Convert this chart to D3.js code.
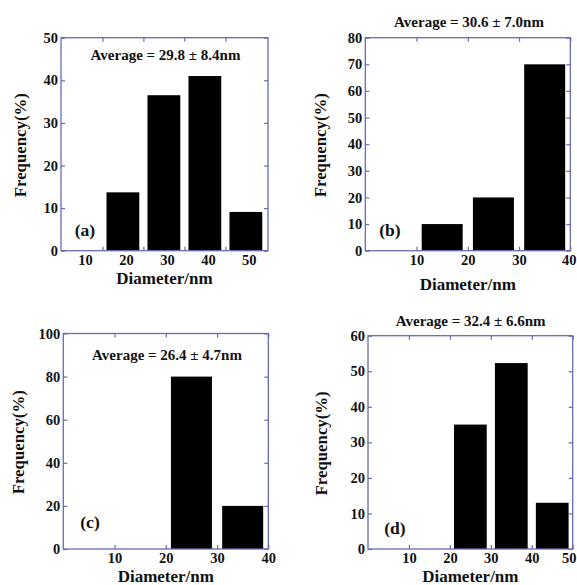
<!DOCTYPE html>
<html>
<head>
<meta charset="utf-8">
<script src="https://cdn.jsdelivr.net/npm/d3@7/dist/d3.min.js"></script>
<style>
  body { margin: 0; background: #fff; }
  text { font-family: "Liberation Serif", "Times New Roman", serif; font-weight: bold; fill: #111; }
</style>
</head>
<body>
<div id="chart"></div>
<script>
// ---- data ----
// (a)
const binsA = [20, 30, 40, 50];
const freqA = [13.7, 36.5, 41, 9.1];
const yTicksA = [0, 10, 20, 30, 40, 50];
const xLabelsA = [10, 20, 30, 40, 50];
const xTicksA = [15, 25, 35, 45];   // tick marks sit on the bin edges here
// (b)
const binsB = [15, 25, 35];
const freqB = [10, 20, 70];
const yTicksB = [0, 10, 20, 30, 40, 50, 60, 70, 80];
const xLabelsB = [10, 20, 30, 40];
// (c)
const binsC = [15, 25, 35];
const freqC = [0, 80, 20];
const yTicksC = [0, 20, 40, 60, 80, 100];
const xLabelsC = [10, 20, 30, 40];
// (d)
const binsD = [25, 35, 45];
const freqD = [35, 52.3, 13];
const yTicksD = [0, 10, 20, 30, 40, 50, 60];
const xLabelsD = [10, 20, 30, 40, 50];

const averages = ["Average = 29.8 ± 8.4nm", "Average = 30.6 ± 7.0nm",
                  "Average = 26.4 ± 4.7nm", "Average = 32.4 ± 6.6nm"];
const letters = ["(a)", "(b)", "(c)", "(d)"];

const W = 577, H = 585;
const frameColor = "#6a6ab4";
const barWidth = 8;

const svg = d3.select("#chart").append("svg")
    .attr("width", W)
    .attr("height", H);

// one panel of the figure
function drawPanel(p) {
    let x = d3.scaleLinear().domain(p.xDomain).range([p.left, p.right]);
    let y = d3.scaleLinear().domain([0, d3.max(p.yTicks)]).range([p.bottom, p.top]);

    let g = svg.append("g");

    // bars
    g.selectAll(".bar")
        .data(p.bins.map((b, i) => ({bin: b, freq: p.freq[i]})))
        .enter().append("rect")
        .attr("class", "bar")
        .attr("x", d => x(d.bin - barWidth / 2))
        .attr("width", d => x(d.bin + barWidth / 2) - x(d.bin - barWidth / 2))
        .attr("y", d => y(d.freq))
        .attr("height", d => y(0) - y(d.freq))
        .attr("fill", "#000");

    // inward ticks on all four sides
    let tickPos = p.xTicks || p.xLabels;
    let axes = [
        d3.axisBottom(x).tickValues(tickPos).tickSize(-4).tickFormat(""),
        d3.axisTop(x).tickValues(tickPos).tickSize(-4).tickFormat(""),
        d3.axisLeft(y).tickValues(p.yTicks).tickSize(-4).tickFormat(""),
        d3.axisRight(y).tickValues(p.yTicks).tickSize(-4).tickFormat("")
    ];
    let shifts = [`0,${p.bottom}`, `0,${p.top}`, `${p.left},0`, `${p.right},0`];
    axes.forEach((a, i) => {
        let ag = g.append("g").attr("transform", `translate(${shifts[i]})`).call(a);
        ag.select(".domain").remove();
        ag.selectAll("line").attr("stroke", frameColor).attr("stroke-width", 1.2);
    });

    // tick labels
    let xl = g.append("g")
        .attr("transform", `translate(${p.labelDx || 0},${p.bottom})`)
        .call(d3.axisBottom(x).tickValues(p.xLabels).tickSize(0).tickPadding(4).tickFormat(d3.format("d")));
    xl.select(".domain").remove();
    xl.selectAll("text").style("font-size", "14.5px").attr("fill", "#111")
        .style("font-family", "'Liberation Serif', serif").style("font-weight", "bold");
    // keep the right-most label inside the page
    xl.selectAll("text").each(function (d) {
        let half = this.getComputedTextLength() / 2;
        let over = x(d) + (p.labelDx || 0) + half - (W - 1);
        if (over > 0) d3.select(this).attr("dx", -over);
    });

    let yl = g.append("g")
        .attr("transform", `translate(${p.left},0)`)
        .call(d3.axisLeft(y).tickValues(p.yTicks).tickSize(0).tickPadding(3).tickFormat(d3.format("d")));
    yl.select(".domain").remove();
    yl.selectAll("text").style("font-size", "14.5px").attr("fill", "#111")
        .style("font-family", "'Liberation Serif', serif").style("font-weight", "bold");

    // frame
    g.append("rect")
        .attr("x", p.left).attr("y", p.top)
        .attr("width", p.right - p.left).attr("height", p.bottom - p.top)
        .attr("fill", "none")
        .attr("stroke", frameColor)
        .attr("stroke-width", 1.3);

    // axis titles
    g.append("text")
        .attr("x", (p.left + p.right) / 2)
        .attr("y", p.xTitleY)
        .attr("text-anchor", "middle")
        .style("font-size", "17px")
        .text("Diameter/nm");

    g.append("text")
        .attr("transform", `translate(${p.yTitleX},${(p.top + p.bottom) / 2 + 1}) rotate(-90)`)
        .attr("text-anchor", "middle")
        .attr("dy", "0.35em")
        .style("font-size", "16.8px")
        .text("Frequency(%)");

    // average annotation and panel letter
    g.append("text")
        .attr("x", p.avgX)
        .attr("y", p.avgY)
        .attr("text-anchor", "middle")
        .style("font-size", "15px")
        .text(p.avg);

    g.append("text")
        .attr("x", p.letterX)
        .attr("y", p.letterY)
        .attr("text-anchor", "middle")
        .style("font-size", "17.5px")
        .text(p.letter);
}

drawPanel({bins: binsA, freq: freqA, yTicks: yTicksA, xLabels: xLabelsA, xTicks: xTicksA,
    xDomain: [4.9, 55.4], left: 61, right: 268, top: 37.7, bottom: 250.7, labelDx: 3,
    xTitleY: 284, yTitleX: 20, avg: averages[0], avgX: 165.5, avgY: 60,
    letter: letters[0], letterX: 85, letterY: 236});

drawPanel({bins: binsB, freq: freqB, yTicks: yTicksB, xLabels: xLabelsB,
    xDomain: [0, 40], left: 365.3, right: 570.3, top: 37.7, bottom: 250.7,
    xTitleY: 290, yTitleX: 320, avg: averages[1], avgX: 469, avgY: 26.5,
    letter: letters[1], letterX: 390, letterY: 236});

drawPanel({bins: binsC, freq: freqC, yTicks: yTicksC, xLabels: xLabelsC,
    xDomain: [0, 40], left: 63.3, right: 268.3, top: 333.5, bottom: 549,
    xTitleY: 582, yTitleX: 18.5, avg: averages[2], avgX: 167, avgY: 360,
    letter: letters[2], letterX: 90, letterY: 528});

drawPanel({bins: binsD, freq: freqD, yTicks: yTicksD, xLabels: xLabelsD,
    xDomain: [0, 50], left: 368, right: 572.7, top: 335.7, bottom: 549,
    xTitleY: 582, yTitleX: 321, avg: averages[3], avgX: 470.7, avgY: 325.5,
    letter: letters[3], letterX: 395, letterY: 534});
</script>
</body>
</html>
